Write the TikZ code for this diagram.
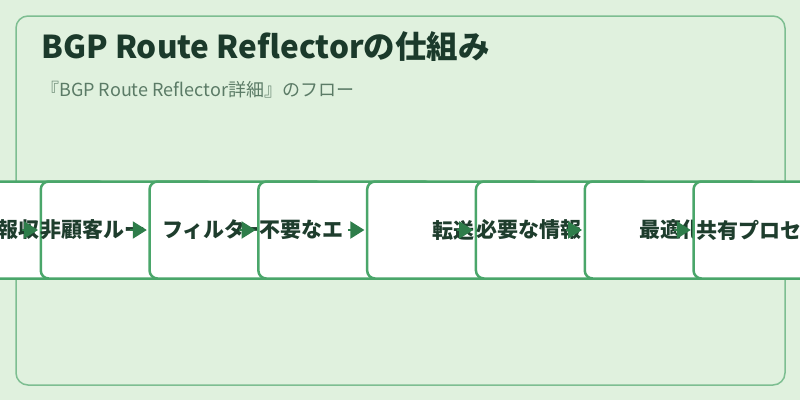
\documentclass[tikz,border=0pt]{standalone}
\usepackage{fontspec}
\setmainfont{Noto Sans CJK JP}
\usetikzlibrary{arrows.meta}
\definecolor{bgc}{RGB}{224,241,222}
\definecolor{panelc}{RGB}{125,190,145}
\definecolor{boxc}{RGB}{74,166,106}
\definecolor{arrc}{RGB}{46,125,74}
\definecolor{txtc}{RGB}{30,61,45}
\definecolor{titlec}{RGB}{27,58,43}
\definecolor{subc}{RGB}{91,123,102}
\tikzset{
  stepbox/.style={draw=boxc, line width=2.5pt, fill=white, rounded corners=8pt,
    minimum width=174pt, minimum height=97pt, inner sep=0pt, anchor=west},
  lbl/.style={font=\fontsize{21}{24}\selectfont\bfseries, text=txtc, inner sep=0pt, anchor=west},
  arr/.style={draw=arrc, line width=2pt, -{Triangle[length=14pt,width=17pt]}, arrc},
}
\begin{document}
\begin{tikzpicture}[x=1pt,y=-1pt]
\fill[bgc] (0,0) rectangle (800,400);
\useasboundingbox (0,0) rectangle (800,400);
\draw[panelc, line width=1.5pt, rounded corners=12pt] (16,16) rectangle (785,385);
\node[font=\fontsize{31.5}{36}\selectfont\bfseries, text=titlec, anchor=base west, inner sep=0pt] (title) at (41,58) {BGP Route Reflectorの仕組み};
\node[font=\fontsize{18}{21}\selectfont, text=subc, anchor=base west, inner sep=0pt] (sub) at (41,96) {『BGP Route Reflector詳細』のフロー};
% coordinates of box left edges
\coordinate (e1) at (-69.3,230);
\coordinate (e2) at (39.5,230);
\coordinate (e3) at (148.3,230);
\coordinate (e4) at (257.1,230);
\coordinate (e5) at (365.9,230);
\coordinate (e6) at (474.7,230);
\coordinate (e7) at (583.5,230);
\coordinate (e8) at (692.3,230);
\foreach \i in {2,...,8}{\coordinate (s\i) at ([xshift=-18pt]e\i);}
% box 1
\node[stepbox] (b1) at (e1) {};
\node[lbl] (t1) at (-3,230) {報収};
\draw[arr] (s2) -- ([xshift=-1.5pt]e2);
\node[stepbox] (b2) at (e2) {};
\node[lbl] (t2) at (40,230) {非顧客ルー};
\draw[arr] (s3) -- ([xshift=-1.5pt]e3);
\node[stepbox] (b3) at (e3) {};
\node[lbl] (t3) at (162,230) {フィルター};
\draw[arr] (s4) -- ([xshift=-1.5pt]e4);
\node[stepbox] (b4) at (e4) {};
\node[lbl] (t4) at (259,230) {不要なエ};
\draw[arr] (s5) -- ([xshift=-1.5pt]e5);
\node[stepbox] (b5) at (e5) {};
\node[lbl] (t5) at (432,230) {転送};
\draw[arr] (s6) -- ([xshift=-1.5pt]e6);
\node[stepbox] (b6) at (e6) {};
\node[lbl] (t6) at (476,230) {必要な情報};
\draw[arr] (s7) -- ([xshift=-1.5pt]e7);
\node[stepbox] (b7) at (e7) {};
\node[lbl] (t7) at (639,230) {最適化};
\draw[arr] (s8) -- ([xshift=-1.5pt]e8);
\node[stepbox] (b8) at (e8) {};
\node[lbl] (t8) at (696,230) {共有プロセス};
\end{tikzpicture}
\end{document}
